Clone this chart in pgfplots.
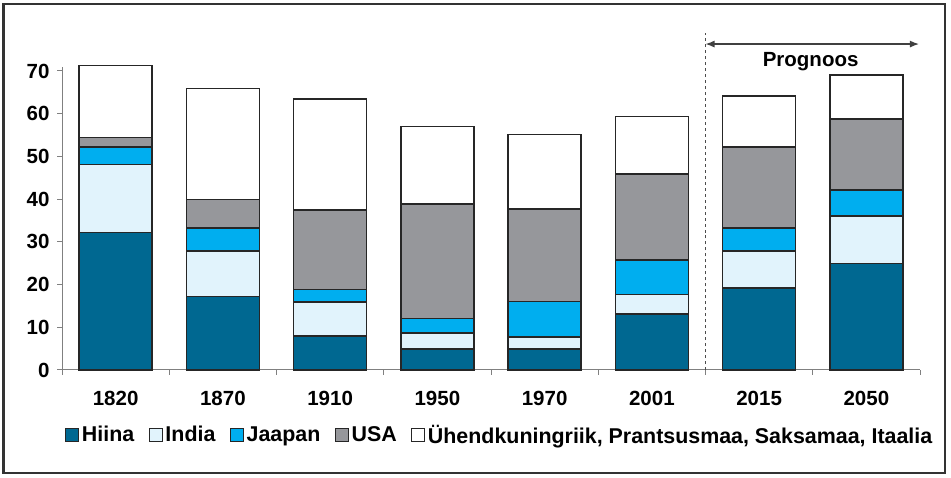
\documentclass[border=0pt]{standalone}
\usepackage{pgfplots}
\pgfplotsset{compat=1.18}
\usepackage{pgfplotstable}
\usepackage{fontspec}
\setmainfont{Liberation Sans}
\usetikzlibrary{arrows.meta}
\definecolor{hiina}{RGB}{0,104,145}
\definecolor{india}{RGB}{225,243,252}
\definecolor{jaapan}{RGB}{0,174,239}
\definecolor{usa}{RGB}{150,151,155}
\definecolor{axisgray}{RGB}{128,128,128}
\pgfplotstableread{
x Hiina India Jaapan USA West
0 32.2 15.9 4.1 2.2 16.9
1 17.2 10.7 5.3 6.7 26.0
2 8.0 7.9 2.9 18.7 25.9
3 4.9 3.7 3.5 26.8 18.1
4 4.9 2.8 8.3 21.7 17.4
5 13.1 4.6 8.1 20.1 13.4
6 19.2 8.6 5.4 19.0 12.0
7 24.9 11.2 6.0 16.7 10.2
}\datatable
\begin{document}
\begin{tikzpicture}[x=1bp,y=1bp]
\useasboundingbox (0,0) rectangle (951,478);
\draw[line width=2bp, black!80] (3.5,5) rectangle (945,473.5);
\begin{axis}[
  at={(62bp,108bp)}, anchor=south west,
  scale only axis, width=858bp, height=303.3bp,
  xmin=-0.5, xmax=7.5, ymin=0, ymax=71,
  enlargelimits=false, clip=false,
  axis lines*=left,
  axis line style={axisgray, line width=1bp},
  ybar stacked, bar width=73bp,
  xtick={0,...,7},
  xticklabels={1820,1870,1910,1950,1970,2001,2015,2050},
  minor xtick={-0.5,0.5,...,7.5},
  ytick={0,10,...,70},
  tick align=outside,
  major tick length=5bp, minor tick length=5bp,
  x tick style={draw=none},
  minor x tick style={draw=axisgray, line width=1bp},
  y tick style={axisgray, line width=1bp},
  /pgf/number format/assume math mode=true,
  /pgf/number format/1000 sep={},
  tick label style={font=\fontsize{20.5bp}{24bp}\selectfont\bfseries, black},
  xticklabel style={yshift=-13bp},
  yticklabel style={xshift=-4bp},
  legend columns=-1,
  legend style={at={(axis cs:3.584,-15.2)}, anchor=center, draw=none,
    font=\fontsize{21.4bp}{25bp}\selectfont\bfseries,
    /tikz/every even column/.append style={column sep=12bp},
    nodes={inner sep=2.5bp}},
  legend image code/.code={\draw[#1,line width=1.2bp] (0bp,-6.5bp) rectangle (13bp,6.5bp);},
  every axis plot/.append style={draw=black!85, line width=1.6bp},
]
\addplot[fill=hiina] table[x=x,y=Hiina]{\datatable};
\addplot[fill=india] table[x=x,y=India]{\datatable};
\addplot[fill=jaapan] table[x=x,y=Jaapan]{\datatable};
\addplot[fill=usa] table[x=x,y=USA]{\datatable};
\addplot[fill=white] table[x=x,y=West]{\datatable};
\legend{Hiina,India,Jaapan,USA,{Ühendkuningriik, Prantsusmaa, Saksamaa, Itaalia}}
\draw[dashed, black!70, line width=1bp] (axis cs:5.5,0) -- (axis cs:5.5,78.9);
\draw[{Latex[length=9bp,width=7bp]}-{Latex[length=9bp,width=7bp]}, black!75, line width=1.2bp] (axis cs:5.5,76.3) -- (axis cs:7.49,76.3);
\node[font=\fontsize{20.5bp}{24bp}\selectfont\bfseries] at (axis cs:6.48,72.1) {Prognoos};
\end{axis}
\end{tikzpicture}
\end{document}
